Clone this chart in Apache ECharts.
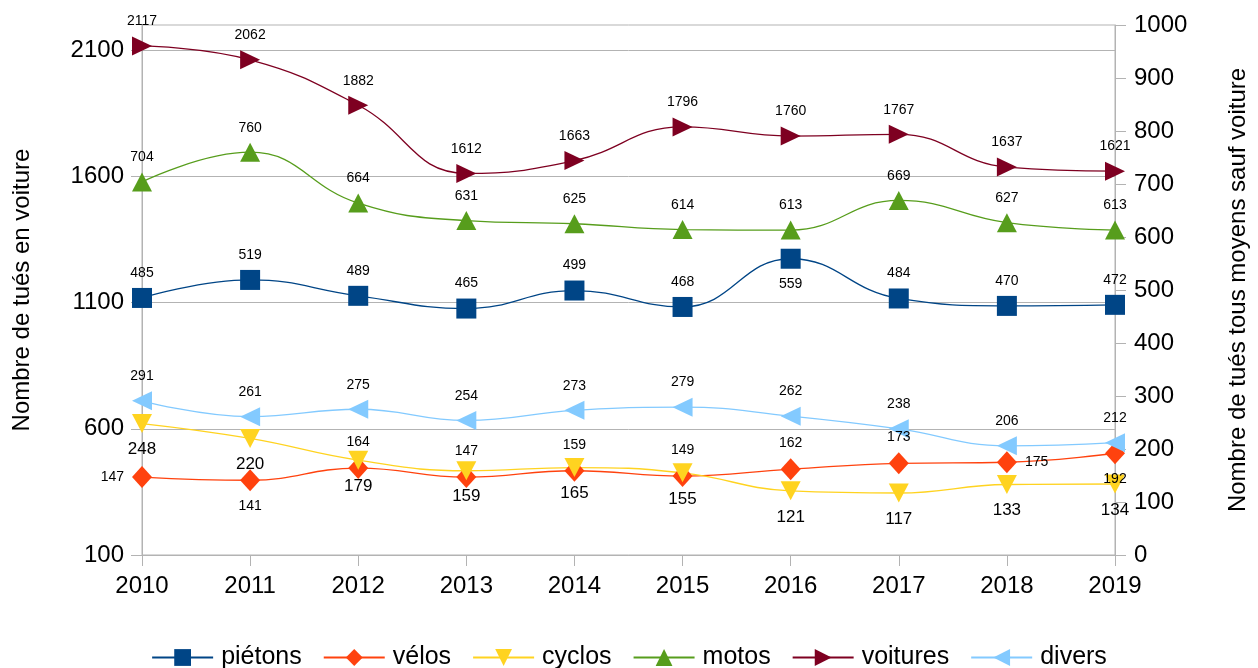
<!DOCTYPE html>
<html>
<head>
<meta charset="utf-8">
<title>Tués par mode de déplacement 2010-2019</title>
<script src="https://cdn.jsdelivr.net/npm/echarts@6/dist/echarts.min.js"></script>
<style>
  html, body { margin: 0; padding: 0; background: #ffffff; }
  #chart { width: 1258px; height: 668px; }
</style>
</head>
<body>
<div id="chart"></div>
<script>
// Années
const years = ['2010', '2011', '2012', '2013', '2014', '2015', '2016', '2017', '2018', '2019'];

// Nombre de tués par mode de déplacement
const pietons  = [485, 519, 489, 465, 499, 468, 559, 484, 470, 472];
const velos    = [147, 141, 164, 147, 159, 149, 162, 173, 175, 192];
const cyclos   = [248, 220, 179, 159, 165, 155, 121, 117, 133, 134];
const motos    = [704, 760, 664, 631, 625, 614, 613, 669, 627, 613];
const voitures = [2117, 2062, 1882, 1612, 1663, 1796, 1760, 1767, 1637, 1621];
const divers   = [291, 261, 275, 254, 273, 279, 262, 238, 206, 212];

// Graduations des deux axes verticaux
const leftTicks  = [100, 600, 1100, 1600, 2100];
const rightTicks = [0, 100, 200, 300, 400, 500, 600, 700, 800, 900, 1000];

const FONT = '"Liberation Sans", Arial, sans-serif';
const AXIS_GRAY = '#b3b3b3';

// Étiquettes déplacées à la main sur certains points
const labelOverrides = {
  velos: { 0: 'left', 1: 'bottom', 8: 'right', 9: 'bottom' },
  pietons: { 6: 'bottom' }
};

function points(values, key) {
  const moved = labelOverrides[key] || {};
  return values.map((v, i) => moved[i] ? { value: v, label: { position: moved[i] } } : v);
}

function lineSeries(name, key, values, color, symbol, axisIndex, labelPos, labelSize, symbolSize) {
  return {
    name: name,
    type: 'line',
    yAxisIndex: axisIndex,
    data: points(values, key),
    smooth: 0.45,
    symbol: symbol,
    symbolSize: symbolSize || 20,
    color: color,
    itemStyle: { color: color },
    lineStyle: { color: color, width: 1.3 },
    label: {
      show: true,
      position: labelPos,
      distance: 8,
      color: '#000000',
      fontFamily: FONT,
      fontSize: labelSize
    },
    emphasis: { disabled: true }
  };
}

const chart = echarts.init(document.getElementById('chart'), null, { renderer: 'canvas' });

chart.setOption({
  animation: false,
  backgroundColor: '#ffffff',
  textStyle: { fontFamily: FONT },
  grid: {
    left: 142, right: 143, top: 25, bottom: 113,
    show: true, borderColor: AXIS_GRAY, borderWidth: 1, backgroundColor: 'transparent'
  },
  legend: {
    left: 'center',
    top: 640,
    itemWidth: 61,
    itemHeight: 21,
    itemGap: 21,
    textStyle: { fontFamily: FONT, fontSize: 25, color: '#000000', padding: [0, 0, 0, 3] },
    data: ['piétons', 'vélos', 'cyclos', 'motos', 'voitures', 'divers']
  },
  xAxis: {
    type: 'category',
    data: years,
    boundaryGap: false,
    axisLine: { show: true, lineStyle: { color: AXIS_GRAY, width: 1 } },
    axisTick: { show: true, length: 11, lineStyle: { color: AXIS_GRAY } },
    axisLabel: { fontFamily: FONT, fontSize: 24, color: '#000000', margin: 19 },
    splitLine: { show: false }
  },
  yAxis: [
    {
      type: 'value',
      position: 'left',
      min: 100,
      max: 2200,
      interval: 500,
      name: 'Nombre de tués en voiture',
      nameLocation: 'middle',
      nameRotate: 90,
      nameGap: 108,
      nameTextStyle: { fontFamily: FONT, fontSize: 24, color: '#000000' },
      axisLine: { show: true, lineStyle: { color: AXIS_GRAY, width: 1 } },
      axisTick: { show: true, length: 11, customValues: leftTicks, lineStyle: { color: AXIS_GRAY } },
      axisLabel: {
        fontFamily: FONT, fontSize: 24, color: '#000000', margin: 18,
        customValues: leftTicks,
        formatter: v => leftTicks.indexOf(v) >= 0 ? String(v) : ''
      },
      splitLine: { show: true, lineStyle: { color: AXIS_GRAY, width: 1 } }
    },
    {
      type: 'value',
      position: 'right',
      min: 0,
      max: 1000,
      interval: 100,
      name: 'Nombre de tués tous moyens sauf voiture',
      nameLocation: 'middle',
      nameRotate: 90,
      nameGap: 111,
      nameTextStyle: { fontFamily: FONT, fontSize: 24, color: '#000000' },
      axisLine: { show: true, lineStyle: { color: AXIS_GRAY, width: 1 } },
      axisTick: { show: true, length: 11, lineStyle: { color: AXIS_GRAY } },
      axisLabel: {
        fontFamily: FONT, fontSize: 24, color: '#000000', margin: 19,
        formatter: v => rightTicks.indexOf(v) >= 0 ? String(v) : ''
      },
      splitLine: { show: false }
    }
  ],
  series: [
    lineSeries('piétons', 'pietons', pietons, '#004586', 'rect', 1, 'top', 14, 20),
    lineSeries('vélos', 'velos', velos, '#ff420e', 'diamond', 1, 'top', 14, [20, 22]),
    lineSeries('cyclos', 'cyclos', cyclos, '#ffd320', 'path://M0,0 L10,0 L5,10 Z', 1, 'bottom', 17, [20, 19]),
    lineSeries('motos', 'motos', motos, '#579d1c', 'path://M5,0 L10,10 L0,10 Z', 1, 'top', 14, [20, 19]),
    lineSeries('voitures', 'voitures', voitures, '#7e0021', 'path://M0,0 L10,5 L0,10 Z', 0, 'top', 14, [20, 19]),
    lineSeries('divers', 'divers', divers, '#83caff', 'path://M10,0 L0,5 L10,10 Z', 1, 'top', 14, [20, 19])
  ]
});
</script>
</body>
</html>
